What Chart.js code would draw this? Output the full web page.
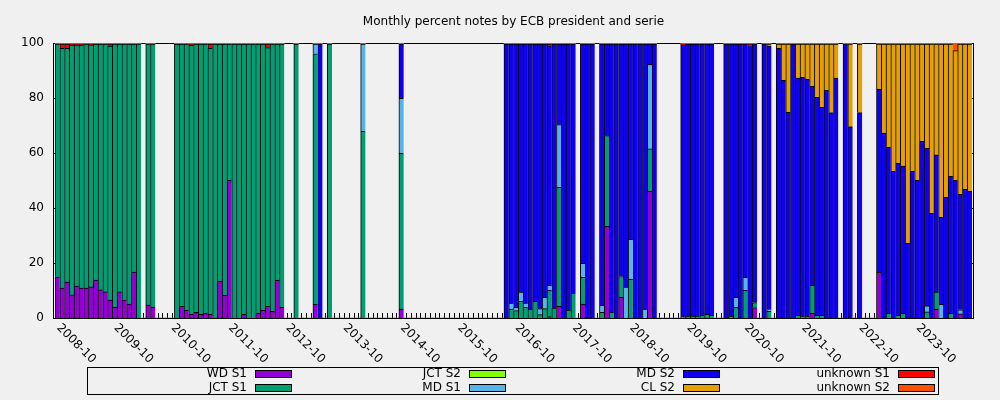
<!DOCTYPE html>
<html>
<head>
<meta charset="utf-8">
<title>Monthly percent notes by ECB president and serie</title>
<script src="https://cdn.jsdelivr.net/npm/chart.js@4.4.0/dist/chart.umd.min.js"></script>
<style>
  html, body { margin: 0; padding: 0; background: #f0f0f0; }
  #wrap { width: 1000px; height: 400px; }
</style>
</head>
<body>
<div id="wrap"><canvas id="chart" width="1000" height="400"></canvas></div>
<script>
// one category per month, 2008-10 .. 2024-09
const months = [];
for (let i = 0; i < 192; i++) {
  const yr = 2008 + Math.floor((9 + i) / 12);
  const mo = (9 + i) % 12 + 1;
  months.push(yr + '-' + String(mo).padStart(2, '0'));
}

const xTickLabels = ['2008-10', '2009-10', '2010-10', '2011-10', '2012-10', '2013-10', '2014-10', '2015-10',
  '2016-10', '2017-10', '2018-10', '2019-10', '2020-10', '2021-10', '2022-10', '2023-10'];
const yTickValues = [0, 20, 40, 60, 80, 100];

// percent per month, one row = Oct..Sep
const wdS1 = [
  15.0, 10.9, 13.1, 8.4, 11.6, 10.9, 10.9, 11.3, 13.8, 10.2, 9.5, 6.5,
  4.0, 9.5, 6.5, 5.1, 16.7, 0, 0, 4.7, 4.0, 0, 0, 0,
  0, 0, 4.2, 2.8, 1.3, 2.1, 1.3, 1.7, 1.3, 0, 13.3, 8.2,
  50.1, 0, 0, 1.3, 0, 0, 1.7, 2.8, 4.2, 2.4, 13.7, 3.9,
  0, 0, 0, 0, 0, 0, 5.0, 0, 0, 0, 0, 0,
  0, 0, 0, 0, 0, 0, 0, 0, 0, 0, 0, 0,
  3.2, 0, 0, 0, 0, 0, 0, 0, 0, 0, 0, 0,
  0, 0, 0, 0, 0, 0, 0, 0, 0, 0, 0, 0,
  0, 0, 0, 0, 0, 0, 0, 0.5, 0, 4.2, 0, 0,
  0, 0, 5.1, 0, 0, 0, 0, 33.3, 0, 0, 7.5, 0,
  0, 0, 0, 0, 46.1, 0, 0, 0, 0, 0, 0, 0,
  0, 0, 0, 0, 0, 0, 0, 0, 0, 0, 0, 0,
  0, 0, 3.8, 0, 0, 0, 0, 0, 0, 0, 0, 0,
  0, 0, 1.7, 0, 0, 0, 0, 0, 0, 0, 0, 0,
  0, 0, 0, 0, 16.6, 0, 0, 0, 0, 0, 0, 0,
  0, 0, 0, 0, 3.2, 0, 0, 0, 0, 1.5, 0, 0
];
const jctS1 = [
  84.6, 87.2, 85.0, 90.8, 87.6, 88.3, 88.7, 88.0, 85.8, 89.4, 90.1, 92.4,
  95.6, 90.1, 93.1, 94.5, 82.9, 99.6, 0, 94.9, 95.6, 0, 0, 0,
  0, 99.6, 95.4, 96.8, 97.9, 97.5, 98.3, 97.9, 96.8, 99.6, 86.3, 91.4,
  49.5, 99.6, 99.6, 98.3, 99.6, 99.6, 97.9, 96.8, 94.1, 97.2, 85.9, 95.7,
  0, 0, 99.6, 0, 0, 0, 91.1, 0, 0, 99.6, 0, 0,
  0, 0, 0, 0, 67.9, 0, 0, 0, 0, 0, 0, 0,
  56.7, 0, 0, 0, 0, 0, 0, 0, 0, 0, 0, 0,
  0, 0, 0, 0, 0, 0, 0, 0, 0, 0, 0, 3.2,
  2.7, 6.1, 3.9, 3.2, 6.1, 1.2, 3.4, 9.6, 3.6, 43.3, 0, 2.9,
  9.1, 0, 9.7, 0, 0, 0, 2.1, 33.0, 2.1, 0, 7.6, 0,
  14.1, 0, 0, 0, 15.4, 0, 0, 0, 0, 0, 0, 0.5,
  0.7, 0.7, 0.7, 1.0, 1.3, 1.0, 0, 0, 0, 0.7, 3.9, 0,
  10.1, 0, 1.8, 0, 0, 2.4, 0, 0, 0, 0, 0, 1.0,
  0.7, 0.7, 10.2, 1.0, 1.0, 0, 0, 0, 0, 0, 0, 0,
  0, 0, 0, 0, 0, 0, 1.7, 0, 1.0, 1.7, 0, 0,
  0, 0, 2.2, 0, 6.2, 0, 0, 1.7, 0, 0, 0, 0
];
const jctS2 = new Array(192).fill(0);
const mdS1 = [
  0, 0, 0, 0, 0, 0, 0, 0, 0, 0, 0, 0,
  0, 0, 0, 0, 0, 0, 0, 0, 0, 0, 0, 0,
  0, 0, 0, 0, 0, 0, 0, 0, 0, 0, 0, 0,
  0, 0, 0, 0, 0, 0, 0, 0, 0, 0, 0, 0,
  0, 0, 0, 0, 0, 0, 3.5, 0, 0, 0, 0, 0,
  0, 0, 0, 0, 31.7, 0, 0, 0, 0, 0, 0, 0,
  20.0, 0, 0, 0, 0, 0, 0, 0, 0, 0, 0, 0,
  0, 0, 0, 0, 0, 0, 0, 0, 0, 0, 0, 2.2,
  1.2, 3.3, 1.5, 0, 0, 2.2, 4.1, 1.8, 0, 22.8, 0, 0,
  0, 0, 5.1, 0, 0, 0, 2.5, 0, 0, 0, 0, 11.2,
  14.5, 0, 0, 3.2, 30.7, 0, 0, 0, 0, 0, 0, 0,
  0, 0, 0, 0, 0, 0, 0, 0, 0, 0, 3.6, 0,
  4.7, 0, 0, 0, 0, 0.7, 0, 0, 0, 0, 0, 0,
  0, 0, 0, 0, 0, 0, 0, 0, 0, 0, 0, 0,
  0, 0, 0, 0, 0, 0, 0, 0, 0, 0, 0, 0,
  0, 0, 2.2, 0, 0, 5.0, 0, 0, 0, 1.5, 0, 0
];
const mdS2 = [
  0, 0, 0, 0, 0, 0, 0, 0, 0, 0, 0, 0,
  0, 0, 0, 0, 0, 0, 0, 0, 0, 0, 0, 0,
  0, 0, 0, 0, 0, 0, 0, 0, 0, 0, 0, 0,
  0, 0, 0, 0, 0, 0, 0, 0, 0, 0, 0, 0,
  0, 0, 0, 0, 0, 0, 0, 99.6, 0, 0, 0, 0,
  0, 0, 0, 0, 0, 0, 0, 0, 0, 0, 0, 0,
  19.7, 0, 0, 0, 0, 0, 0, 0, 0, 0, 0, 0,
  0, 0, 0, 0, 0, 0, 0, 0, 0, 0, 99.6, 94.2,
  95.7, 90.2, 94.2, 96.4, 93.5, 96.2, 92.1, 87.0, 96.0, 29.3, 99.6, 96.7,
  90.5, 0, 79.7, 99.6, 99.6, 0, 95.0, 33.3, 97.5, 99.6, 84.5, 88.4,
  71.0, 99.6, 99.6, 96.4, 7.4, 99.6, 0, 0, 0, 0, 0, 98.7,
  98.9, 98.9, 98.9, 98.6, 98.3, 98.6, 0, 0, 99.6, 98.9, 92.1, 99.6,
  84.8, 99.1, 94.0, 0, 99.6, 95.8, 0, 98.1, 86.4, 74.8, 99.6, 86.2,
  86.8, 86.1, 72.3, 79.2, 75.6, 82.8, 74.7, 87.2, 0, 99.6, 69.6, 0,
  74.7, 0, 0, 0, 66.6, 67.2, 60.4, 53.3, 55.2, 53.5, 27.2, 53.3,
  50.1, 64.2, 57.3, 38.1, 49.9, 31.6, 43.9, 49.8, 50.1, 42.0, 46.8, 46.1
];
const clS2 = [
  0, 0, 0, 0, 0, 0, 0, 0, 0, 0, 0, 0,
  0, 0, 0, 0, 0, 0, 0, 0, 0, 0, 0, 0,
  0, 0, 0, 0, 0, 0, 0, 0, 0, 0, 0, 0,
  0, 0, 0, 0, 0, 0, 0, 0, 0, 0, 0, 0,
  0, 0, 0, 0, 0, 0, 0, 0, 0, 0, 0, 0,
  0, 0, 0, 0, 0, 0, 0, 0, 0, 0, 0, 0,
  0, 0, 0, 0, 0, 0, 0, 0, 0, 0, 0, 0,
  0, 0, 0, 0, 0, 0, 0, 0, 0, 0, 0, 0,
  0, 0, 0, 0, 0, 0, 0, 0, 0, 0, 0, 0,
  0, 0, 0, 0, 0, 0, 0, 0, 0, 0, 0, 0,
  0, 0, 0, 0, 0, 0, 0, 0, 0, 0, 0, 0,
  0, 0, 0, 0, 0, 0, 0, 0, 0, 0, 0, 0,
  0, 0, 0, 0, 0, 0.7, 0, 1.5, 13.2, 24.8, 0, 12.4,
  12.1, 12.8, 15.4, 19.4, 23.0, 16.8, 24.9, 12.4, 0, 0, 30.0, 0,
  24.9, 0, 0, 0, 16.4, 32.4, 37.5, 46.3, 43.4, 44.4, 72.4, 46.3,
  49.5, 35.4, 37.9, 61.5, 40.3, 63.0, 55.7, 48.1, 47.1, 54.6, 52.8, 53.5
];
const unknownS1 = [
  0, 1.5, 1.5, 0.4, 0.4, 0.4, 0, 0.3, 0, 0, 0, 0.7,
  0, 0, 0, 0, 0, 0, 0, 0, 0, 0, 0, 0,
  0, 0, 0, 0, 0.4, 0, 0, 0, 1.5, 0, 0, 0,
  0, 0, 0, 0, 0, 0, 0, 0, 1.3, 0, 0, 0,
  0, 0, 0, 0, 0, 0, 0, 0, 0, 0, 0, 0,
  0, 0, 0, 0, 0, 0, 0, 0, 0, 0, 0, 0,
  0, 0, 0, 0, 0, 0, 0, 0, 0, 0, 0, 0,
  0, 0, 0, 0, 0, 0, 0, 0, 0, 0, 0, 0,
  0, 0, 0, 0, 0, 0, 0, 0.7, 0, 0, 0, 0,
  0, 0, 0, 0, 0, 0, 0, 0, 0, 0, 0, 0,
  0, 0, 0, 0, 0, 0, 0, 0, 0, 0, 0, 0.4,
  0, 0, 0, 0, 0, 0, 0, 0, 0, 0, 0, 0,
  0, 0.5, 0, 0, 0, 0, 0, 0, 0, 0, 0, 0,
  0, 0, 0, 0, 0, 0, 0, 0, 0, 0, 0, 0,
  0, 0, 0, 0, 0, 0, 0, 0, 0, 0, 0, 0,
  0, 0, 0, 0, 0, 0, 0, 0, 0, 0, 0, 0
];
const unknownS2 = [
  0.4, 0.4, 0.4, 0.4, 0.4, 0.4, 0.4, 0.4, 0.4, 0.4, 0.4, 0.4,
  0.4, 0.4, 0.4, 0.4, 0.4, 0.4, 0, 0.4, 0.4, 0, 0, 0,
  0, 0.4, 0.4, 0.4, 0.4, 0.4, 0.4, 0.4, 0.4, 0.4, 0.4, 0.4,
  0.4, 0.4, 0.4, 0.4, 0.4, 0.4, 0.4, 0.4, 0.4, 0.4, 0.4, 0.4,
  0, 0, 0.4, 0, 0, 0, 0.4, 0.4, 0, 0.4, 0, 0,
  0, 0, 0, 0, 0.4, 0, 0, 0, 0, 0, 0, 0,
  0.4, 0, 0, 0, 0, 0, 0, 0, 0, 0, 0, 0,
  0, 0, 0, 0, 0, 0, 0, 0, 0, 0, 0.4, 0.4,
  0.4, 0.4, 0.4, 0.4, 0.4, 0.4, 0.4, 0.4, 0.4, 0.4, 0.4, 0.4,
  0.4, 0, 0.4, 0.4, 0.4, 0, 0.4, 0.4, 0.4, 0.4, 0.4, 0.4,
  0.4, 0.4, 0.4, 0.4, 0.4, 0.4, 0, 0, 0, 0, 0, 0.4,
  0.4, 0.4, 0.4, 0.4, 0.4, 0.4, 0, 0, 0.4, 0.4, 0.4, 0.4,
  0.4, 0.4, 0.4, 0, 0.4, 0.4, 0, 0.4, 0.4, 0.4, 0.4, 0.4,
  0.4, 0.4, 0.4, 0.4, 0.4, 0.4, 0.4, 0.4, 0, 0.4, 0.4, 0,
  0.4, 0, 0, 0, 0.4, 0.4, 0.4, 0.4, 0.4, 0.4, 0.4, 0.4,
  0.4, 0.4, 0.4, 0.4, 0.4, 0.4, 0.4, 0.4, 2.8, 0.4, 0.4, 0.4
];

const FONT = '12px "DejaVu Sans", sans-serif';

function series(label, data, color, border) {
  return {
    label: label,
    data: data,
    backgroundColor: color,
    borderColor: '#000',
    borderWidth: border ? {top: 1, left: 1, right: 0, bottom: 0} : 0,
    borderSkipped: false,
    barPercentage: 1,
    categoryPercentage: 1
  };
}

// gnuplot look: frame, inward ticks, rotated dates, boxed key
const gnuplotLook = {
  id: 'gnuplotLook',
  beforeDatasetsDraw(chart) {
    const {ctx, chartArea: a, scales: {x, y}} = chart;
    const left = Math.round(a.left) - 2, right = Math.round(a.right) + 1;
    const top = Math.round(a.top), bottom = Math.round(a.bottom);
    ctx.save();
    ctx.strokeStyle = '#000';
    ctx.lineWidth = 1;
    ctx.beginPath();
    months.forEach((m, i) => {
      const px = Math.round(x.getPixelForValue(i)) + 0.5;
      ctx.moveTo(px, bottom);
      ctx.lineTo(px, bottom - 5);
    });
    yTickValues.forEach(v => {
      const py = Math.round(y.getPixelForValue(v)) + 0.5;
      ctx.moveTo(left, py); ctx.lineTo(left + 6, py);
      ctx.moveTo(right + 1, py); ctx.lineTo(right - 5, py);
    });
    ctx.stroke();
    ctx.strokeRect(left + 0.5, top + 0.5, right - left, bottom - top);
    ctx.restore();
  },
  afterDraw(chart) {
    const {ctx, chartArea: a, scales: {x, y}} = chart;
    ctx.save();
    ctx.fillStyle = '#000';
    ctx.font = FONT;

    ctx.textAlign = 'center';
    ctx.textBaseline = 'middle';
    ctx.fillText('Monthly percent notes by ECB president and serie', (a.left + a.right) / 2, 22);

    ctx.textAlign = 'right';
    yTickValues.forEach(v => ctx.fillText(String(v), a.left - 11, y.getPixelForValue(v)));

    ctx.textAlign = 'left';
    xTickLabels.forEach(lab => {
      const px = x.getPixelForValue(months.indexOf(lab));
      ctx.save();
      ctx.translate(px + 1, a.bottom + 8);
      ctx.rotate(Math.PI / 4);
      ctx.fillText(lab, 0, 0);
      ctx.restore();
    });

    // key box
    ctx.strokeStyle = '#000';
    ctx.lineWidth = 1;
    ctx.strokeRect(87.5, 367.5, 851, 27);
    const textRight = [247, 461, 675, 890];
    const rowY = [374, 388];
    ctx.textAlign = 'right';
    chart.data.datasets.forEach((ds, k) => {
      const col = Math.floor(k / 2), row = k % 2;
      const tx = textRight[col], ty = rowY[row];
      ctx.fillStyle = '#000';
      ctx.fillText(ds.label, tx, ty);
      ctx.fillStyle = ds.backgroundColor;
      ctx.fillRect(tx + 8, ty - 3.5, 37, 7);
      ctx.strokeRect(tx + 8.5, ty - 3.5, 36, 7);
    });
    ctx.restore();
  }
};

new Chart(document.getElementById('chart'), {
  type: 'bar',
  data: {
    labels: months,
    datasets: [
      series('WD S1', wdS1, '#9400d3', true),
      series('JCT S1', jctS1, '#009e73', true),
      series('JCT S2', jctS2, '#7fff00', true),
      series('MD S1', mdS1, '#56b4e9', true),
      series('MD S2', mdS2, '#1000f0', true),
      series('CL S2', clS2, '#e69f00', true),
      series('unknown S1', unknownS1, '#ff0000', true),
      series('unknown S2', unknownS2, '#ff5000', false)
    ]
  },
  options: {
    responsive: false,
    animation: false,
    layout: {padding: {left: 55, right: 28, top: 43, bottom: 82}},
    plugins: {
      legend: {display: false},
      title: {display: false},
      tooltip: {enabled: false}
    },
    scales: {
      x: {stacked: true, display: false},
      y: {stacked: true, display: false, min: 0, max: 100}
    }
  },
  plugins: [gnuplotLook]
});
</script>
</body>
</html>
